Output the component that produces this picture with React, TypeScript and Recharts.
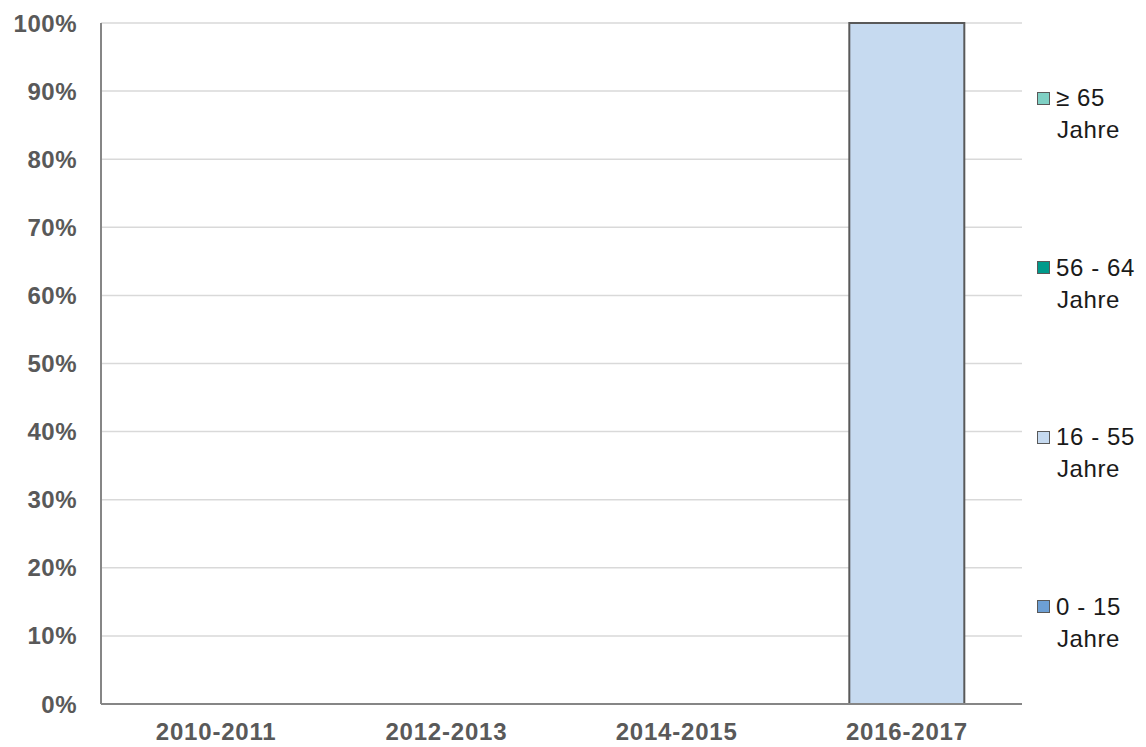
import React from 'react';
import { BarChart, Bar, XAxis, YAxis, CartesianGrid } from 'recharts';

// Shares per age group in percent
const periods = ['2010-2011', '2012-2013', '2014-2015', '2016-2017'];
const age0to15 = [0, 0, 0, 0];
const age16to55 = [0, 0, 0, 100];
const age56to64 = [0, 0, 0, 0];
const age65plus = [0, 0, 0, 0];
const yTicks = [0, 10, 20, 30, 40, 50, 60, 70, 80, 90, 100];

const series = [
  { key: 'a0', name: '0 - 15', color: '#6d9fd4' },
  { key: 'a16', name: '16 - 55', color: '#c6daf0' },
  { key: 'a56', name: '56 - 64', color: '#009a8b' },
  { key: 'a65', name: '≥ 65', color: '#7fd0c4' },
];

const data = periods.map((p, i) => ({
  period: p,
  a0: age0to15[i],
  a16: age16to55[i],
  a56: age56to64[i],
  a65: age65plus[i],
}));

const font = '"Liberation Sans", Arial, sans-serif';

const xTickFont = {
  fontFamily: font,
  fontSize: 24,
  fontWeight: 700,
  fill: '#595959',
  letterSpacing: 0.8,
};

const yTickFont = {
  fontFamily: font,
  fontSize: 24,
  fontWeight: 700,
  fill: '#595959',
  letterSpacing: 0.5,
};

const AgeLegend = () => {
  // legend reads top-down in reverse stack order
  const items = [...series].reverse();
  return (
    <div style={{ position: 'absolute', left: 1037, top: 0, width: 109, height: 747 }}>
      {items.map((s, i) => (
        <div
          key={s.key}
          style={{
            position: 'absolute',
            top: 82 + i * 169.5,
            left: 0,
            fontFamily: font,
            fontSize: 24,
            lineHeight: '32px',
            color: '#1a1a1a',
            letterSpacing: 0.6,
            whiteSpace: 'nowrap',
          }}
        >
          <div style={{ display: 'flex', alignItems: 'center' }}>
            <span
              style={{
                display: 'inline-block',
                width: 11,
                height: 11,
                background: s.color,
                border: '1.5px solid #595959',
                marginRight: 6,
              }}
            />
            <span>{s.name}</span>
          </div>
          <div style={{ paddingLeft: 20 }}>Jahre</div>
        </div>
      ))}
    </div>
  );
};

export default function App() {
  return (
    <div style={{ position: 'relative', width: 1146, height: 747, background: '#fff' }}>
      <style>{'body{margin:0;overflow:hidden}'}</style>
      <BarChart
        width={1146}
        height={747}
        data={data}
        margin={{ top: 23, right: 124, bottom: 0, left: 0 }}
        barCategoryGap="25%"
      >
        <CartesianGrid vertical={false} stroke="#d9d9d9" strokeWidth={1.5} />
        <XAxis
          dataKey="period"
          height={43}
          tick={xTickFont}
          tickLine={false}
          tickSize={0}
          tickMargin={19}
          axisLine={{ stroke: '#868686', strokeWidth: 2 }}
        />
        <YAxis
          width={101}
          domain={[0, 100]}
          ticks={yTicks}
          interval={0}
          tickFormatter={(v) => `${v}%`}
          tick={yTickFont}
          tickLine={false}
          tickSize={0}
          tickMargin={24}
          axisLine={{ stroke: '#868686', strokeWidth: 2 }}
        />
        {series.map((s) => (
          <Bar
            key={s.key}
            dataKey={s.key}
            name={s.name}
            stackId="age"
            fill={s.color}
            stroke="#595959"
            strokeWidth={2}
            isAnimationActive={false}
          />
        ))}
      </BarChart>
      <AgeLegend />
    </div>
  );
}
